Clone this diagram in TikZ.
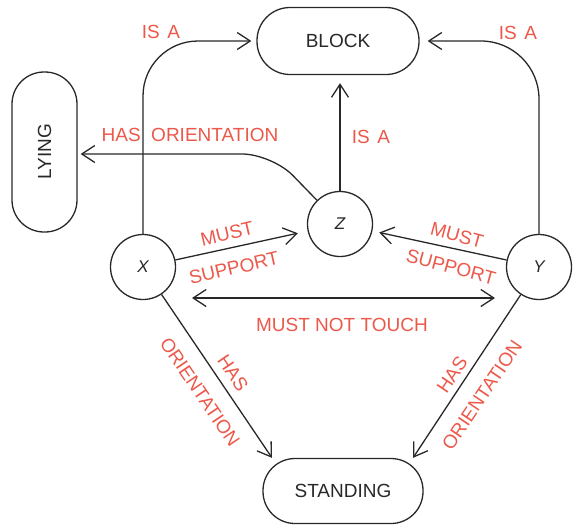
\documentclass[tikz,border=0pt]{standalone}
\usepackage{fontspec}
\setmainfont{Liberation Sans}
\usetikzlibrary{arrows.meta}
\definecolor{lbl}{RGB}{236,88,74}
\definecolor{ink}{RGB}{40,40,40}
\begin{document}
\begin{tikzpicture}[x=1pt,y=-1pt,
  line width=1.3pt, color=ink,
  arr/.style={-{Straight Barb[length=13pt,width=17pt]}},
  dbl/.style={{Straight Barb[length=13pt,width=17pt]}-{Straight Barb[length=13pt,width=17pt]}},
  pill/.style={draw, rounded corners=#1, inner sep=0pt,
    font=\fontsize{19}{22}\selectfont},
  var/.style={draw, circle, minimum size=65pt, inner sep=0pt,
    font=\fontsize{17}{20}\selectfont\itshape},
  lab/.style={text=lbl, inner sep=1pt, font=\fontsize{19}{22}\selectfont}
]
\useasboundingbox (0,0) rectangle (583,525);

% concepts
\node[pill=33pt, minimum width=162pt, minimum height=67pt] (block) at (338,41) {BLOCK};
\node[pill=32pt, minimum width=65pt, minimum height=160pt] (lying) at (44.5,152) {\rotatebox{90}{LYING}};
\node[pill=32pt, minimum width=160pt, minimum height=65pt] (standing) at (343,491) {STANDING};

% variables
\node[var] (z) at (340,224) {Z};
\node[var] (x) at (143,267) {X};
\node[var] (y) at (539,267) {Y};

% relations
\draw[arr, rounded corners=55pt, shorten >=5pt] (x) |- (block);
\draw[arr, rounded corners=58pt, shorten >=8pt] (y) |- (block);
\draw[arr, shorten >=8pt] (z.north) -- (z.north |- block.south);
\coordinate (bend) at (272,154);
\draw[arr, rounded corners=30pt, shorten >=3pt] (z) -- (bend) -- (lying.east |- bend);
\draw[arr, shorten >=10pt] (x) -- (z);
\draw[arr, shorten >=7pt] (y) -- (z);
\draw[dbl] ([shift={(49,31)}]x.center) -- ([shift={(-44,31)}]y.center);
\draw[arr] (x) -- ([xshift=-71pt]standing.north);
\draw[arr] (y) -- ([xshift=70pt]standing.north);

% relation labels
\node[lab] (isa1) at (161,32) {IS\hspace{0.4em}A};
\node[lab] (isa2) at (518,33) {IS\hspace{0.4em}A};
\node[lab] (isa3) at (371,137) {IS\hspace{0.4em}A};
\node[lab] (hasor) at (190,135) {HAS\hspace{0.55em}ORIENTATION};
\node[lab, rotate=13] (must1) at (227,234) {MUST};
\node[lab, rotate=13] (supp1) at (234,268) {SUPPORT};
\node[lab, rotate=-15] (must2) at (457,235) {MUST};
\node[lab, rotate=-15] (supp2) at (451,267) {SUPPORT};
\node[lab] (mnt) at (342,325) {MUST NOT TOUCH};
\node[lab, rotate=-56] (orl) at (200,392) {ORIENTATION};
\node[lab, rotate=-56] (hasl) at (233,373) {HAS};
\node[lab, rotate=56] (hasr) at (452,375) {HAS};
\node[lab, rotate=56] (orr) at (482,395) {ORIENTATION};
\end{tikzpicture}
\end{document}
